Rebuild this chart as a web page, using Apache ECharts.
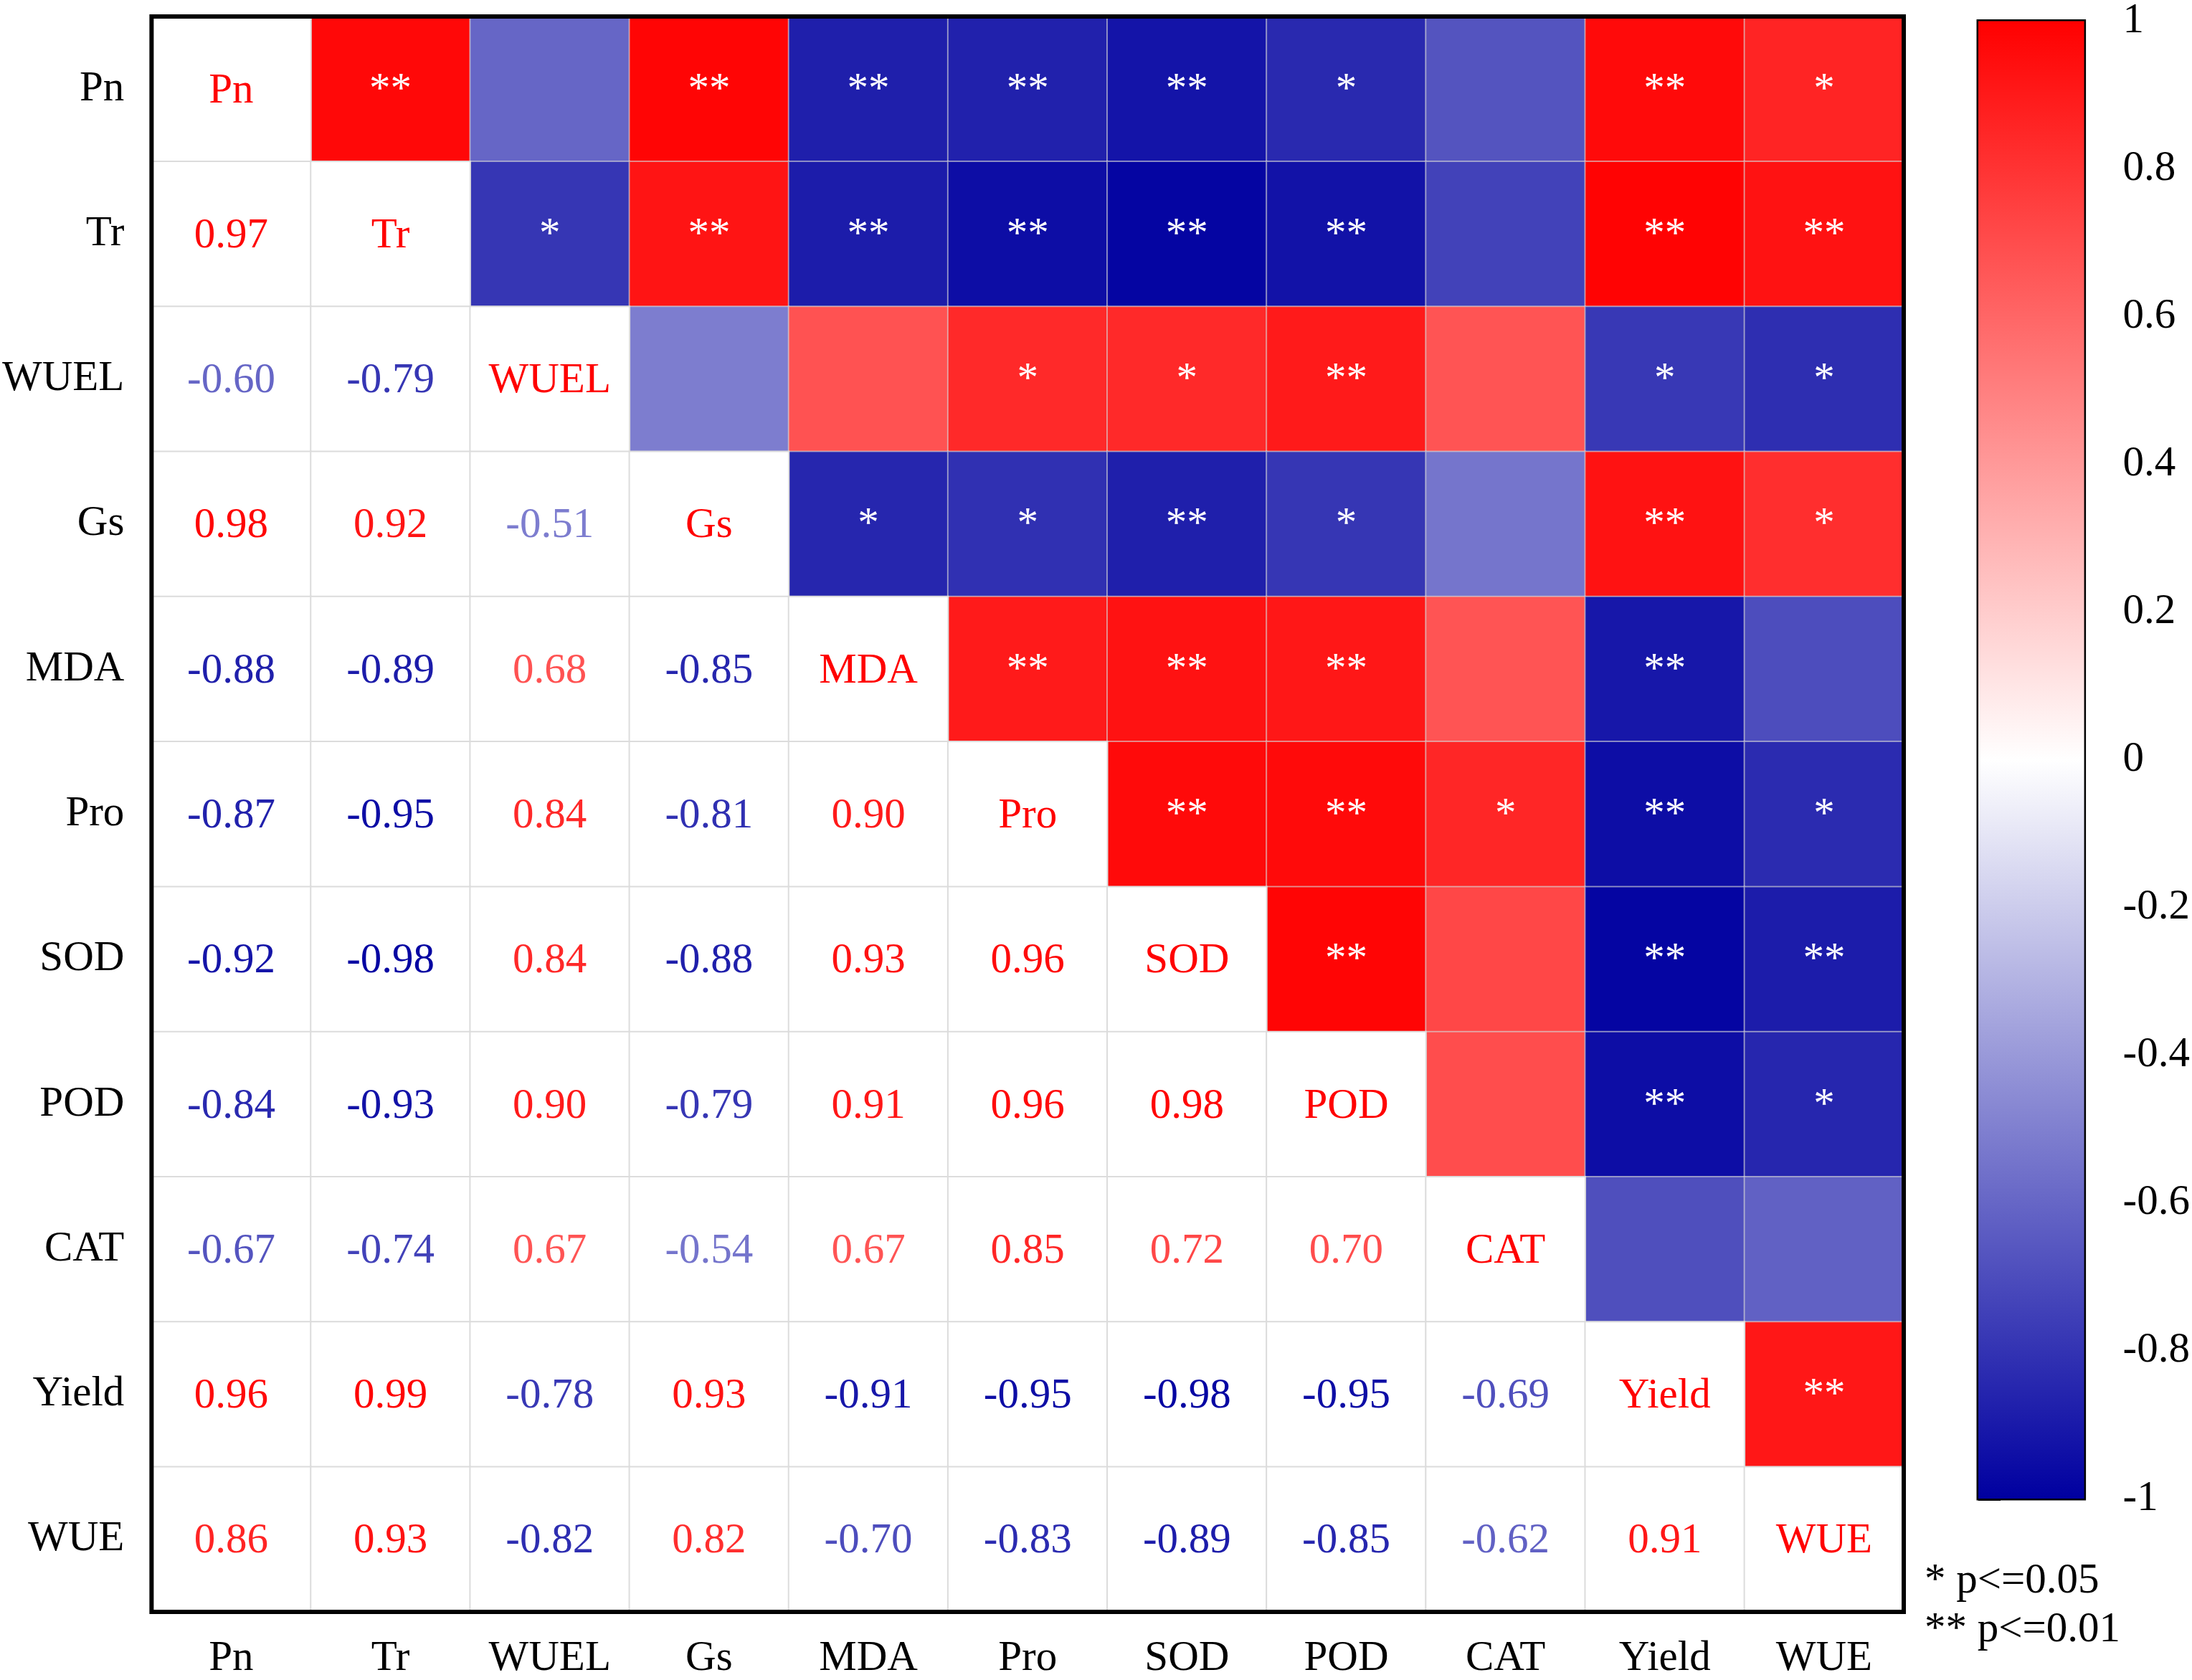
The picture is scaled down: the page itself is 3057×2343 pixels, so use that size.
<!DOCTYPE html>
<html>
<head>
<meta charset="utf-8">
<script src="https://cdn.jsdelivr.net/npm/echarts@6/dist/echarts.min.js"></script>
<style>
  html, body { margin: 0; padding: 0; background: #fff; }
  #chart { width: 3057px; height: 2343px; }
</style>
</head>
<body>
<div id="chart"></div>
<script>
// variables (row/column order)
const categories = ['Pn', 'Tr', 'WUEL', 'Gs', 'MDA', 'Pro', 'SOD', 'POD', 'CAT', 'Yield', 'WUE'];

// lower triangle correlations, row i holds columns 0..i-1
const lowerRows = [
  [],
  [0.97],
  [-0.60, -0.79],
  [0.98, 0.92, -0.51],
  [-0.88, -0.89, 0.68, -0.85],
  [-0.87, -0.95, 0.84, -0.81, 0.90],
  [-0.92, -0.98, 0.84, -0.88, 0.93, 0.96],
  [-0.84, -0.93, 0.90, -0.79, 0.91, 0.96, 0.98],
  [-0.67, -0.74, 0.67, -0.54, 0.67, 0.85, 0.72, 0.70],
  [0.96, 0.99, -0.78, 0.93, -0.91, -0.95, -0.98, -0.95, -0.69],
  [0.86, 0.93, -0.82, 0.82, -0.70, -0.83, -0.89, -0.85, -0.62, 0.91]
];

// significance marks, row i holds columns i+1..10
const starRows = [
  ['**', '', '**', '**', '**', '**', '*', '', '**', '*'],
  ['*', '**', '**', '**', '**', '**', '', '**', '**'],
  ['', '', '*', '*', '**', '', '*', '*'],
  ['*', '*', '**', '*', '', '**', '*'],
  ['**', '**', '**', '', '**', ''],
  ['**', '**', '*', '**', '*'],
  ['**', '', '**', '**'],
  ['', '**', '*'],
  ['', ''],
  ['**'],
  []
];

const BLUE = [0, 0, 160];
const WHITE = [255, 255, 255];
const RED = [255, 0, 0];
const FONT = 'Liberation Serif';
const FS = 59;

function corrColor(v) {
  const to = v < 0 ? BLUE : RED;
  const t = Math.min(1, Math.abs(v));
  const c = WHITE.map((f, k) => Math.round(f + (to[k] - f) * t));
  return 'rgb(' + c.join(',') + ')';
}

const upperData = [];
const lowerData = [];
const n = categories.length;
for (let i = 0; i < n; i++) {
  for (let j = 0; j < n; j++) {
    if (j > i) {
      const v = lowerRows[j][i];
      const s = starRows[i][j - i - 1];
      upperData.push({
        value: [j, i, v],
        label: { show: s !== '', formatter: s }
      });
    } else if (j < i) {
      const v = lowerRows[i][j];
      lowerData.push({
        value: [j, i, v],
        itemStyle: { color: '#ffffff' },
        label: { formatter: v.toFixed(2), color: corrColor(v) }
      });
    } else {
      lowerData.push({
        value: [j, i, 1],
        itemStyle: { color: '#ffffff' },
        label: { formatter: categories[i], color: '#ff0000' }
      });
    }
  }
}

const chart = echarts.init(document.getElementById('chart'));

chart.setOption({
  animation: false,
  backgroundColor: '#ffffff',
  textStyle: { fontFamily: FONT },
  grid: [
    { left: 209, top: 23, width: 2446, height: 2235, show: true, borderColor: '#000', borderWidth: 6, backgroundColor: 'transparent', z: 10 },
    { left: 2759, top: 23, width: 150, height: 2067, show: true, borderColor: '#000', borderWidth: 5 }
  ],
  xAxis: [
    {
      type: 'category', gridIndex: 0, data: categories, position: 'bottom',
      axisLine: { show: false }, axisTick: { show: false }, splitLine: { show: false },
      axisLabel: { fontFamily: FONT, fontSize: FS, color: '#000', margin: 36 }
    },
    { type: 'value', gridIndex: 1, min: 0, max: 1, show: false }
  ],
  yAxis: [
    {
      type: 'category', gridIndex: 0, data: categories, inverse: true,
      axisLine: { show: false }, axisTick: { show: false }, splitLine: { show: false },
      axisLabel: { fontFamily: FONT, fontSize: FS, color: '#000', margin: 38 }
    },
    {
      type: 'value', gridIndex: 1, min: -1, max: 1, interval: 0.2, position: 'right',
      axisLine: { show: true, lineStyle: { color: '#000', width: 5 } },
      axisTick: { show: true, length: 31, inside: false, lineStyle: { color: '#000', width: 5 } },
      splitLine: { show: false },
      axisLabel: {
        fontFamily: FONT, fontSize: FS, color: '#000', margin: 54,
        formatter: v => String(Math.round(v * 10) / 10)
      }
    }
  ],
  visualMap: {
    show: false, type: 'continuous', min: -1, max: 1, seriesIndex: 0, dimension: 2,
    inRange: { color: ['#0000a0', '#ffffff', '#ff0000'] }
  },
  series: [
    {
      type: 'heatmap', xAxisIndex: 0, yAxisIndex: 0, data: upperData,
      itemStyle: { borderColor: 'rgba(215,215,215,0.55)', borderWidth: 2 },
      label: { show: true, color: '#fff', fontFamily: FONT, fontSize: FS, offset: [0, 2] },
      emphasis: { disabled: true }
    },
    {
      type: 'heatmap', xAxisIndex: 0, yAxisIndex: 0, data: lowerData,
      itemStyle: { borderColor: '#dcdcdc', borderWidth: 2 },
      label: { show: true, fontFamily: FONT, fontSize: FS, offset: [0, 3] },
      emphasis: { disabled: true }
    },
    {
      type: 'custom', xAxisIndex: 1, yAxisIndex: 1, data: [[0, 1, -1]],
      renderItem: function (params, api) {
        const p0 = api.coord([0, api.value(1)]);
        const p1 = api.coord([1, api.value(2)]);
        return {
          type: 'rect',
          shape: { x: p0[0], y: p0[1], width: p1[0] - p0[0], height: p1[1] - p0[1] },
          style: {
            fill: new echarts.graphic.LinearGradient(0, 0, 0, 1, [
              { offset: 0, color: '#ff0000' },
              { offset: 0.5, color: '#ffffff' },
              { offset: 1, color: '#0000a0' }
            ])
          }
        };
      }
    }
  ],
  graphic: [
    { type: 'text', left: 2684, top: 2176, style: { text: '* p<=0.05', font: '59px "Liberation Serif"', fill: '#000' } },
    { type: 'text', left: 2684, top: 2244, style: { text: '** p<=0.01', font: '59px "Liberation Serif"', fill: '#000' } }
  ]
});
</script>
</body>
</html>
